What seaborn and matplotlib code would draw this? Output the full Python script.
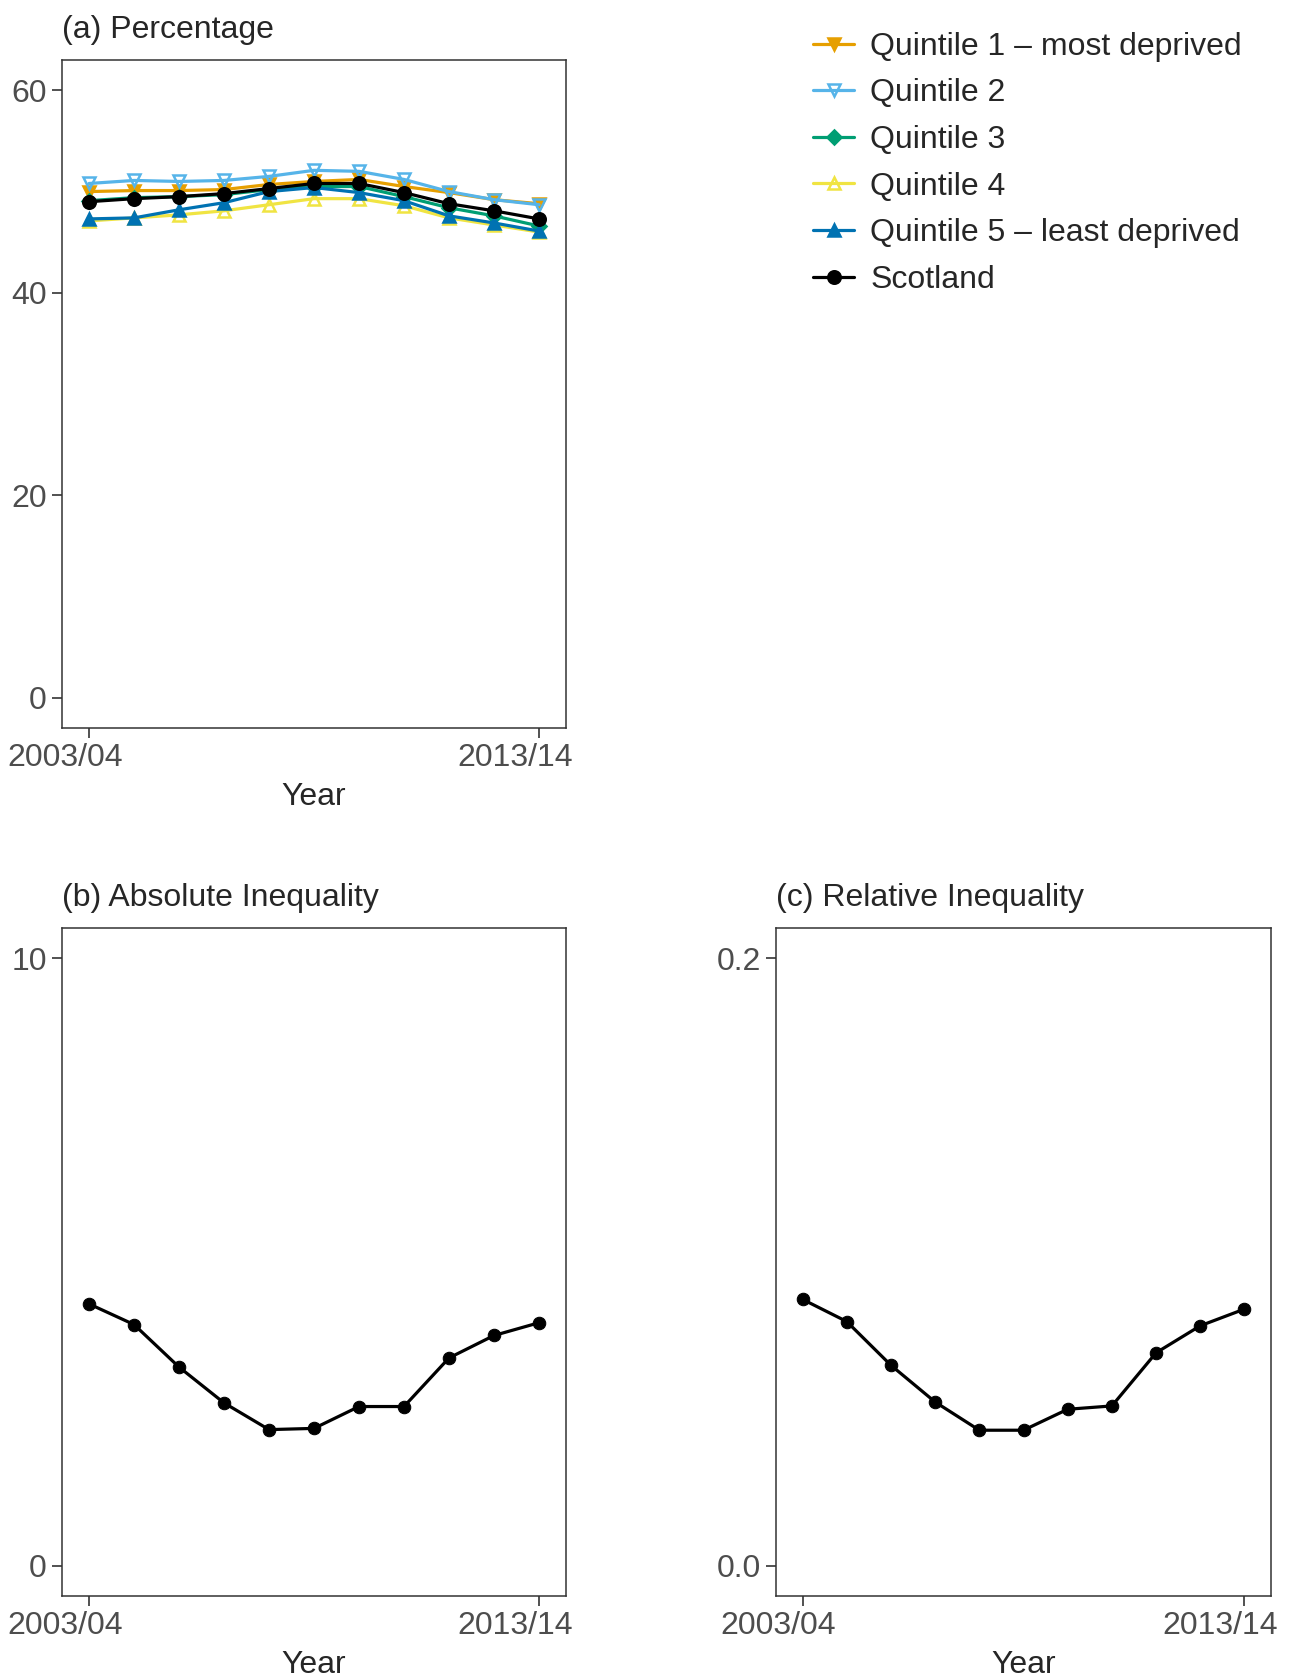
import pandas as pd
import matplotlib.pyplot as plt
import matplotlib.transforms as mtrans
import seaborn as sns

years = ["2003/04", "2004/05", "2005/06", "2006/07", "2007/08", "2008/09",
         "2009/10", "2010/11", "2011/12", "2012/13", "2013/14"]

q1 = [50.0, 50.1, 50.1, 50.2, 50.7, 51.0, 51.2, 50.5, 49.9, 49.2, 48.8]
q2 = [50.8, 51.1, 51.0, 51.1, 51.5, 52.1, 52.0, 51.2, 50.0, 49.2, 48.7]
q3 = [49.1, 49.4, 49.5, 49.7, 50.2, 50.5, 50.5, 49.5, 48.4, 47.6, 46.6]
q4 = [47.1, 47.4, 47.7, 48.1, 48.7, 49.3, 49.3, 48.6, 47.4, 46.7, 46.0]
q5 = [47.3, 47.4, 48.2, 48.9, 50.0, 50.4, 49.9, 49.1, 47.6, 46.9, 46.1]
scotland = [49.0, 49.3, 49.5, 49.8, 50.3, 50.8, 50.8, 49.9, 48.8, 48.1, 47.3]

absolute = [4.31, 3.97, 3.27, 2.68, 2.24, 2.26, 2.62, 2.62, 3.42, 3.79, 4.00]
relative = [0.0877, 0.0804, 0.0660, 0.0539, 0.0446, 0.0446, 0.0515, 0.0526,
            0.0701, 0.0790, 0.0845]

groups = ["Quintile 1 \u2013 most deprived", "Quintile 2", "Quintile 3",
          "Quintile 4", "Quintile 5 \u2013 least deprived", "Scotland"]
series = [q1, q2, q3, q4, q5, scotland]
colours = ["#E69F00", "#56B4E9", "#009E73", "#F0E442", "#0072B2", "black"]
markers = ["v", "v", "D", "^", "^", "o"]
filled = [True, False, True, False, True, True]

sns.set_style("ticks")
plt.rcParams["font.family"] = ["Liberation Sans", "DejaVu Sans"]

fig = plt.figure(figsize=(12.94, 16.8), dpi=100)
W, H = 1294, 1680
ax_a = fig.add_axes([62 / W, 1 - 728 / H, 504 / W, 668 / H])
ax_b = fig.add_axes([62 / W, 1 - 1596 / H, 504 / W, 668 / H])
ax_c = fig.add_axes([776 / W, 1 - 1596 / H, 495 / W, 668 / H])

fs = 23
grey = "#4D4D4D"

for name, vals, col, mk, fill in zip(groups, series, colours, markers, filled):
    df = pd.DataFrame({"Year": years, "Value": vals})
    ms = 7 if mk == "D" else 9
    sns.lineplot(data=df, x="Year", y="Value", ax=ax_a, color=col, lw=2.3,
                 marker=mk, markersize=ms,
                 markerfacecolor=col if fill else "none",
                 markeredgecolor=col, markeredgewidth=1.8, label=name)

df_b = pd.DataFrame({"Year": years, "Value": absolute})
sns.lineplot(data=df_b, x="Year", y="Value", ax=ax_b, color="black", lw=2.3,
             marker="o", markersize=9, markeredgecolor="black")
df_c = pd.DataFrame({"Year": years, "Value": relative})
sns.lineplot(data=df_c, x="Year", y="Value", ax=ax_c, color="black", lw=2.3,
             marker="o", markersize=9, markeredgecolor="black")

handles, labels = ax_a.get_legend_handles_labels()
ax_a.get_legend().remove()
fig.legend(handles, labels, loc="upper left", bbox_to_anchor=(800 / W, 1 - 19 / H),
           frameon=False, fontsize=fs, handlelength=1.3, handletextpad=0.5,
           labelspacing=0.52, borderaxespad=0)

setup = [
    (ax_a, "(a) Percentage", (-3, 63), [0, 20, 40, 60], ["0", "20", "40", "60"]),
    (ax_b, "(b) Absolute Inequality", (-0.5, 10.5), [0, 10], ["0", "10"]),
    (ax_c, "(c) Relative Inequality", (-0.01, 0.21), [0, 0.2], ["0.0", "0.2"]),
]
shift = mtrans.ScaledTranslation(-24 / 100, 0, fig.dpi_scale_trans)
for ax, title, ylim, yt, ytl in setup:
    ax.set_xlim(-0.6, 10.6)
    ax.set_ylim(*ylim)
    ax.set_xticks([0, 10])
    ax.set_xticklabels([years[0], years[-1]])
    ax.set_yticks(yt)
    ax.set_yticklabels(ytl)
    ax.set_xlabel("Year", fontsize=fs, labelpad=6)
    ax.set_ylabel("")
    ax.set_title(title, loc="left", fontsize=fs, pad=16)
    ax.tick_params(labelsize=fs, colors="#333333", labelcolor=grey,
                   length=7, width=1.2, direction="out", pad=4)
    for lab in ax.get_xticklabels():
        lab.set_transform(lab.get_transform() + shift)
    for sp in ax.spines.values():
        sp.set_visible(True)
        sp.set_color("#333333")
        sp.set_linewidth(1.1)

fig.savefig("out.png", dpi=100)
